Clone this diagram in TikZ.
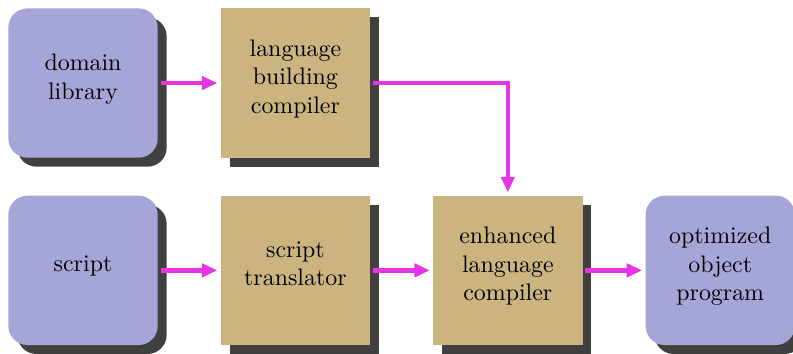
\documentclass[tikz,border=0pt]{standalone}
\usetikzlibrary{positioning,shadows,arrows.meta}
\definecolor{boxblue}{RGB}{165,165,216}
\definecolor{boxtan}{RGB}{203,180,128}
\definecolor{flowpink}{RGB}{228,52,228}
\begin{document}
\begin{tikzpicture}[node distance = 15.5pt and 26pt,
  shade/.style = {drop shadow={opacity=1, fill=black!75, shadow xshift=3.75pt, shadow yshift=-3.75pt}},
  io/.style = {rectangle, rounded corners=8pt, fill=boxblue, minimum size=62.5pt, align=center, text depth=5.5pt, shade},
  tool/.style = {rectangle, fill=boxtan, minimum size=62.5pt, align=center, text depth=5.5pt, shade},
  flow/.style = {-{Triangle[length=6.5pt,width=5.5pt]}, line width=1.8pt, color=flowpink, shorten <=1pt, shorten >=1.2pt}]

\node[io] (domain) {domain\\library};
\node[tool, right=of domain] (builder) {language\\building\\compiler};
\node[io, below=of domain] (script) {script};
\node[tool, right=of script] (translator) {script\\translator};
\node[tool, right=of translator] (enhanced) {enhanced\\language\\compiler};
\node[io, right=of enhanced] (program) {optimized\\object\\program};

\draw[flow] (domain) -- (builder);
\draw[flow] (script) -- (translator);
\draw[flow] (translator) -- (enhanced);
\draw[flow] (enhanced) -- (program);
\draw[flow] (builder.east) -| (enhanced.north);

\pgfresetboundingbox
\path[use as bounding box] ([shift={(-3.3pt,3.3pt)}]domain.north west) rectangle ([shift={(-1pt,-3.5pt)}]program.south east);
\end{tikzpicture}
\end{document}
